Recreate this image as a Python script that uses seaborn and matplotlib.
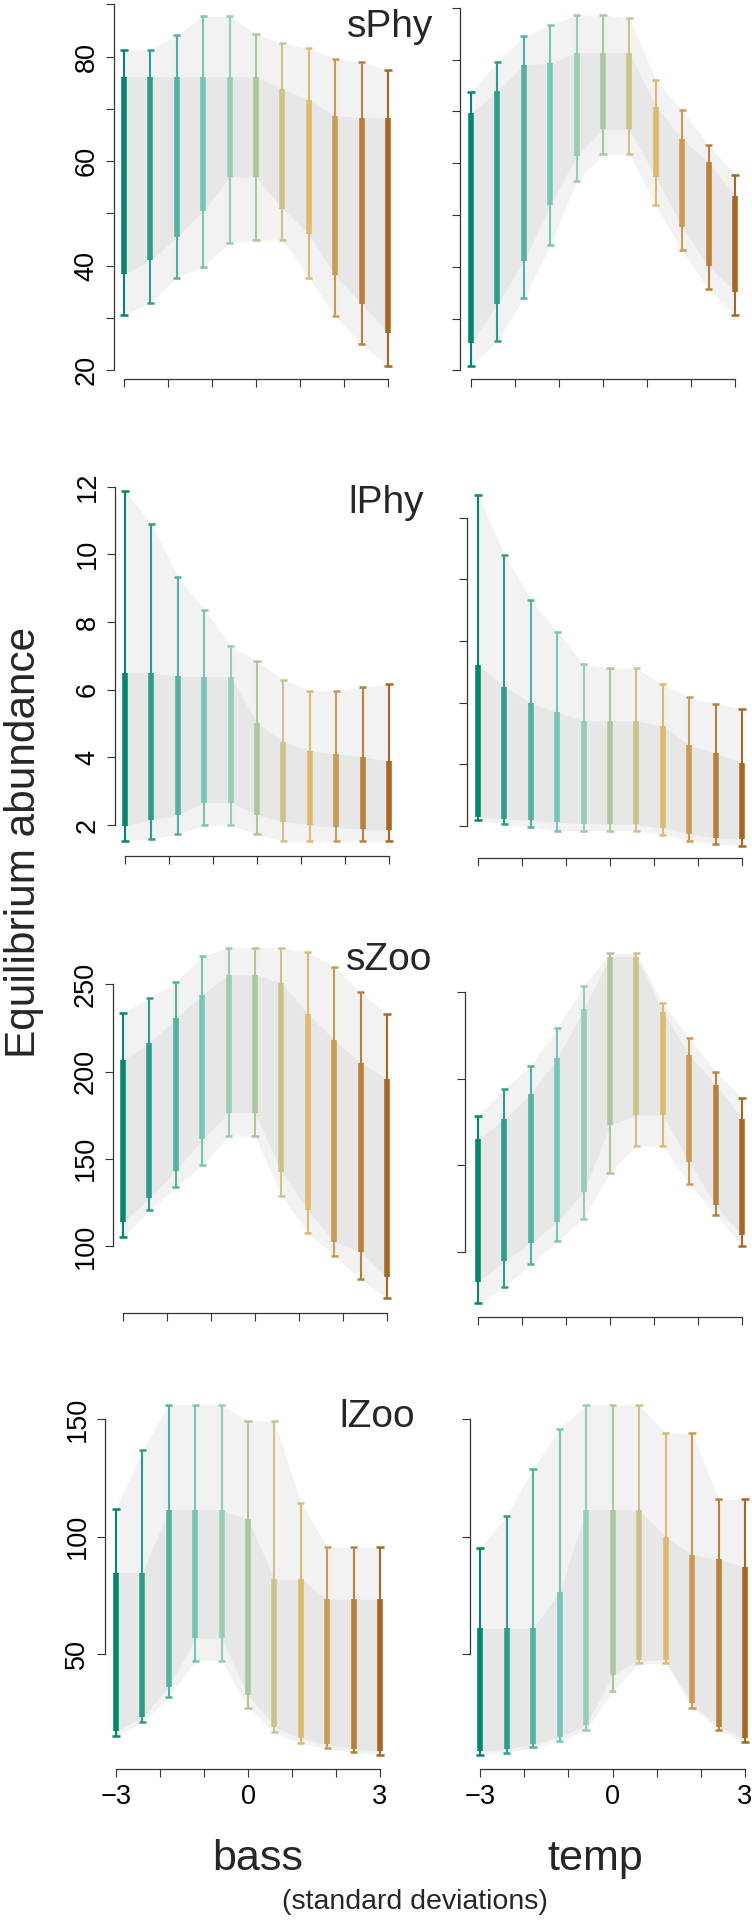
import matplotlib
matplotlib.use("Agg")
import matplotlib.pyplot as plt
import seaborn as sns
import pandas as pd

# ---------------- data ----------------
x_sd = [-3.0, -2.4, -1.8, -1.2, -0.6, 0.0, 0.6, 1.2, 1.8, 2.4, 3.0]
x_ticks = [-3, -2, -1, 0, 1, 2, 3]
x_ticklabels = ["\u22123", "", "", "0", "", "", "3"]
variables = ["sPhy", "lPhy", "sZoo", "lZoo"]
drivers = ["bass", "temp"]

sphy_yticks = [20, 30, 40, 50, 60, 70, 80, 90]
sphy_ylabels = ["20", "", "40", "", "60", "", "80", ""]
lphy_yticks = [2, 4, 6, 8, 10, 12]
lphy_ylabels = ["2", "4", "6", "8", "10", "12"]
szoo_yticks = [100, 150, 200, 250]
szoo_ylabels = ["100", "150", "200", "250"]
lzoo_yticks = [50, 100, 150]
lzoo_ylabels = ["50", "100", "150"]

# sPhy
sphy_bass_outer_hi = [81.3, 81.3, 84.1, 87.7, 87.7, 84.3, 82.5, 81.6, 79.6, 78.9, 77.4]
sphy_bass_inner_hi = [76.1, 76.1, 76.1, 76.1, 76.1, 76.1, 73.8, 71.7, 68.7, 68.3, 68.2]
sphy_bass_inner_lo = [38.4, 41.0, 45.4, 50.5, 56.9, 56.9, 50.9, 46.1, 38.1, 32.7, 27.0]
sphy_bass_outer_lo = [30.6, 32.9, 37.7, 39.8, 44.4, 44.9, 44.9, 37.7, 30.3, 24.9, 20.8]
sphy_temp_outer_hi = [73.7, 79.6, 84.5, 86.6, 88.6, 88.6, 88.0, 76.0, 70.2, 63.4, 57.7]
sphy_temp_inner_hi = [69.6, 73.9, 78.9, 79.3, 81.3, 81.3, 81.3, 70.9, 64.6, 60.2, 53.7]
sphy_temp_inner_lo = [25.3, 32.8, 41.1, 51.9, 61.4, 66.5, 66.5, 57.4, 47.7, 40.1, 35.2]
sphy_temp_outer_lo = [20.9, 25.6, 34.0, 44.1, 56.5, 61.7, 61.7, 51.9, 43.2, 35.6, 30.7]

# lPhy
lphy_bass_outer_hi = [11.88, 10.9, 9.34, 8.37, 7.30, 6.85, 6.29, 5.97, 5.97, 6.07, 6.17]
lphy_bass_inner_hi = [6.50, 6.50, 6.40, 6.38, 6.38, 5.02, 4.44, 4.20, 4.10, 4.02, 3.89]
lphy_bass_inner_lo = [1.97, 2.15, 2.30, 2.66, 2.66, 2.30, 2.10, 2.00, 1.93, 1.87, 1.85]
lphy_bass_outer_lo = [1.54, 1.59, 1.72, 2.00, 2.00, 1.73, 1.52, 1.52, 1.52, 1.52, 1.52]
lphy_temp_outer_hi = [12.74, 10.79, 9.33, 8.30, 7.24, 7.13, 7.11, 6.59, 6.17, 5.96, 5.81]
lphy_temp_inner_hi = [7.22, 6.52, 5.98, 5.69, 5.41, 5.41, 5.41, 5.24, 4.63, 4.36, 4.05]
lphy_temp_inner_lo = [2.30, 2.24, 2.18, 2.12, 2.08, 2.06, 2.05, 1.92, 1.75, 1.62, 1.57]
lphy_temp_outer_lo = [2.19, 2.05, 1.96, 1.85, 1.85, 1.85, 1.85, 1.71, 1.52, 1.41, 1.36]

# sZoo
szoo_bass_outer_hi = [233.8, 242.0, 251.3, 266.0, 271.0, 271.0, 271.0, 268.5, 260.1, 245.4, 233.0]
szoo_bass_inner_hi = [206.6, 216.2, 230.5, 243.9, 255.4, 255.4, 251.0, 233.0, 218.1, 205.1, 195.5]
szoo_bass_inner_lo = [114.0, 127.3, 143.2, 161.1, 176.4, 176.4, 142.6, 120.6, 102.4, 96.7, 82.0]
szoo_bass_outer_lo = [105.0, 120.6, 133.6, 146.4, 163.0, 163.0, 128.8, 107.6, 94.4, 81.0, 70.0]
szoo_temp_outer_hi = [178.4, 194.2, 207.2, 228.9, 253.1, 272.1, 272.1, 243.3, 223.1, 203.9, 189.1]
szoo_temp_inner_hi = [165.0, 176.5, 190.9, 211.6, 239.8, 270.2, 270.2, 238.5, 213.5, 196.2, 177.0]
szoo_temp_inner_lo = [83.1, 95.0, 105.2, 117.6, 134.8, 173.2, 179.0, 179.0, 152.1, 127.1, 109.8]
szoo_temp_outer_lo = [70.6, 80.2, 93.1, 106.3, 119.4, 145.9, 161.1, 161.1, 139.6, 121.7, 103.8]

# lZoo
lzoo_bass_outer_hi = [111.9, 136.9, 156.3, 156.3, 156.3, 149.3, 149.3, 114.5, 95.5, 95.5, 95.5]
lzoo_bass_inner_hi = [84.7, 84.7, 111.4, 111.4, 111.4, 107.4, 81.8, 81.8, 73.3, 73.3, 73.3]
lzoo_bass_inner_lo = [17.0, 23.0, 36.1, 56.7, 56.7, 32.5, 19.0, 14.0, 11.5, 9.5, 8.5]
lzoo_bass_outer_lo = [15.2, 21.0, 31.5, 47.2, 47.2, 26.9, 16.6, 12.0, 9.8, 8.1, 7.0]
lzoo_temp_outer_hi = [95.0, 108.8, 128.8, 145.9, 156.1, 156.1, 156.1, 144.0, 144.0, 115.9, 115.9]
lzoo_temp_inner_hi = [60.9, 60.9, 60.9, 76.3, 111.4, 111.4, 111.4, 100.0, 92.2, 90.5, 86.9]
lzoo_temp_inner_lo = [8.5, 9.5, 11.5, 14.5, 19.7, 41.0, 47.4, 47.4, 29.0, 19.0, 14.0]
lzoo_temp_outer_lo = [7.0, 8.0, 10.2, 12.9, 17.6, 34.2, 46.0, 46.0, 27.1, 17.6, 12.6]

# ---------------- style ----------------
bar_colors = ['#00876f', '#2a9e8a', '#50b3a0', '#76c6b5', '#96cdb3', '#adc79d',
              '#cbc48a', '#dfb96c', '#cc9a52', '#b98039', '#a86720']
outer_band = '#f2f2f2'
inner_band = '#e7e7e7'

sns.set_theme(style="ticks")
plt.rcParams['font.family'] = ['Liberation Sans', 'DejaVu Sans']
plt.rcParams['axes.unicode_minus'] = True
narrow = ['Liberation Sans Narrow', 'Liberation Sans', 'DejaVu Sans']

W, H = 752, 1920
fig = plt.figure(figsize=(W / 100, H / 100), dpi=100)

panels = {
    ("sPhy", "bass"): (sphy_bass_outer_lo, sphy_bass_inner_lo, sphy_bass_inner_hi, sphy_bass_outer_hi),
    ("sPhy", "temp"): (sphy_temp_outer_lo, sphy_temp_inner_lo, sphy_temp_inner_hi, sphy_temp_outer_hi),
    ("lPhy", "bass"): (lphy_bass_outer_lo, lphy_bass_inner_lo, lphy_bass_inner_hi, lphy_bass_outer_hi),
    ("lPhy", "temp"): (lphy_temp_outer_lo, lphy_temp_inner_lo, lphy_temp_inner_hi, lphy_temp_outer_hi),
    ("sZoo", "bass"): (szoo_bass_outer_lo, szoo_bass_inner_lo, szoo_bass_inner_hi, szoo_bass_outer_hi),
    ("sZoo", "temp"): (szoo_temp_outer_lo, szoo_temp_inner_lo, szoo_temp_inner_hi, szoo_temp_outer_hi),
    ("lZoo", "bass"): (lzoo_bass_outer_lo, lzoo_bass_inner_lo, lzoo_bass_inner_hi, lzoo_bass_outer_hi),
    ("lZoo", "temp"): (lzoo_temp_outer_lo, lzoo_temp_inner_lo, lzoo_temp_inner_hi, lzoo_temp_outer_hi),
}
yticks = {"sPhy": (sphy_yticks, sphy_ylabels), "lPhy": (lphy_yticks, lphy_ylabels),
          "sZoo": (szoo_yticks, szoo_ylabels), "lZoo": (lzoo_yticks, lzoo_ylabels)}

# geometry in pixels: y-axis x, x(-3) px, x(3) px, x-axis y, px of first tick, px of last tick, axes top
geom = {
    ("sPhy", "bass"): (114, 124, 388, 379, 370.0, 4.3, 0),
    ("sPhy", "temp"): (460, 471, 735, 379, 370.3, 7.7, 0),
    ("lPhy", "bass"): (115, 125, 389, 856, 825.0, 486.7, 470),
    ("lPhy", "temp"): (467, 478, 742, 858, 826.0, 517.7, 470),
    ("sZoo", "bass"): (113, 123, 387, 1313, 1246.0, 984.3, 930),
    ("sZoo", "temp"): (465, 478, 742, 1317, 1252.3, 991.7, 930),
    ("lZoo", "bass"): (105, 116, 380, 1769, 1654.0, 1419.3, 1390),
    ("lZoo", "temp"): (470, 480, 745, 1769, 1654.0, 1419.3, 1390),
}
title_pos = {"sPhy": (347, 37), "lPhy": (348, 513), "sZoo": (346, 970), "lZoo": (339, 1427)}

for r, var in enumerate(variables):
    ticks, tlabels = yticks[var]
    for c, drv in enumerate(drivers):
        olo, ilo, ihi, ohi = panels[(var, drv)]
        yax, px0, px1, xay, plo, phi, top = geom[(var, drv)]
        right = px1 + 8
        ax = fig.add_axes([yax / W, 1 - xay / H, (right - yax) / W, (xay - top) / H])
        sx = (px1 - px0) / 6.0
        xmin = -3 - (px0 - yax) / sx
        xmax = 3 + (right - px1) / sx
        v_lo, v_hi = ticks[0], ticks[-1]
        sy = (plo - phi) / (v_hi - v_lo)
        ymin = v_lo - (xay - plo) / sy
        ymax = v_hi + (phi - top) / sy

        df = pd.DataFrame({"x": x_sd, "olo": olo, "ilo": ilo, "ihi": ihi, "ohi": ohi})
        ax.fill_between(df["x"], df["olo"], df["ohi"], color=outer_band, lw=0, zorder=1)
        ax.fill_between(df["x"], df["ilo"], df["ihi"], color=inner_band, lw=0, zorder=2)
        for i, row in df.iterrows():
            col = bar_colors[i]
            ax.vlines(row["x"], row["olo"], row["ohi"], color=col, lw=1.5, zorder=3)
            ax.vlines(row["x"], row["ilo"], row["ihi"], color=col, lw=4.0, zorder=4)
            ax.hlines([row["olo"], row["ohi"]], row["x"] - 0.08, row["x"] + 0.08,
                      color=col, lw=1.8, zorder=4)

        ax.set_xlim(xmin, xmax)
        ax.set_ylim(ymin, ymax)
        for s in ["top", "right"]:
            ax.spines[s].set_visible(False)
        ax.spines["left"].set_bounds(v_lo, v_hi)
        ax.spines["bottom"].set_bounds(-3, 3)
        for s in ["left", "bottom"]:
            ax.spines[s].set_color("#333333")
            ax.spines[s].set_linewidth(0.9)
        ax.set_xticks(x_ticks)
        ax.set_yticks(ticks)
        ax.tick_params(axis="both", direction="out", length=5.5, width=0.8,
                       color="#333333", labelcolor="black")
        ax.tick_params(axis="y", pad=5.0)
        ax.tick_params(axis="x", pad=5.5)
        if r == len(variables) - 1:
            ax.set_xticklabels(x_ticklabels, family=narrow, fontsize=19.5)
        else:
            ax.set_xticklabels([""] * len(x_ticks))
        if c == 0:
            ax.set_yticklabels(tlabels, rotation=90, va="center", family=narrow, fontsize=19.5)
        else:
            ax.set_yticklabels([""] * len(ticks))
        ax.set_xlabel("")
        ax.set_ylabel("")
        ax.grid(False)
        ax.patch.set_alpha(0)

    tx, ty = title_pos[var]
    fig.text(tx / W, 1 - ty / H, var, fontsize=28, ha="left", va="baseline")

fig.text(258 / W, 1 - 1870 / H, "bass", fontsize=31, ha="center", va="baseline")
fig.text(595 / W, 1 - 1870 / H, "temp", fontsize=31, ha="center", va="baseline")
fig.text(415 / W, 1 - 1909 / H, "(standard deviations)", fontsize=20.5, ha="center",
         va="baseline")
fig.text(24 / W, 1 - 842 / H, "Equilibrium abundance", fontsize=30.5, rotation=90,
         ha="center", va="center")

fig.savefig("out.png", dpi=100, facecolor="white")
